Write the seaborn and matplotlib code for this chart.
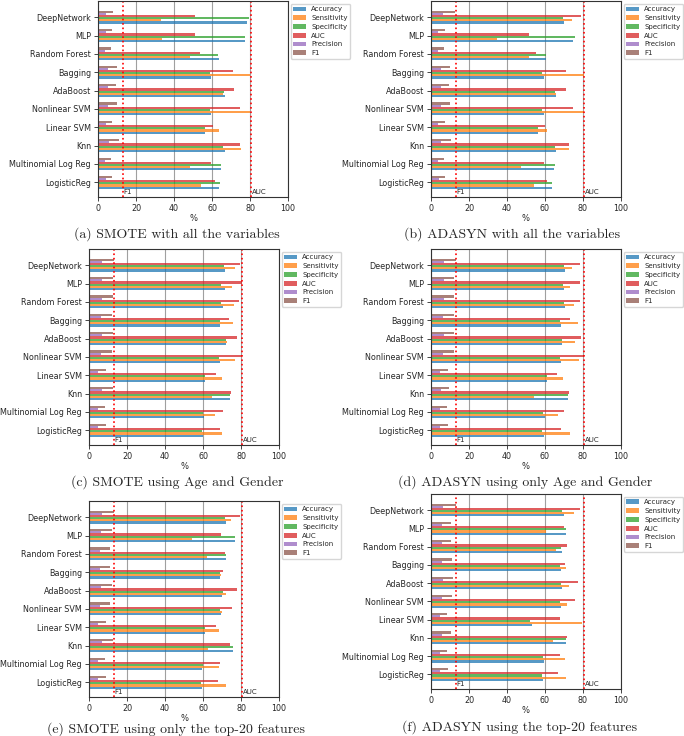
import matplotlib
matplotlib.use("Agg")
import matplotlib.pyplot as plt
import pandas as pd
import seaborn as sns

models = ["DeepNetwork", "MLP", "Random Forest", "Bagging", "AdaBoost",
          "Nonlinear SVM", "Linear SVM", "Knn", "Multinomial Log Reg", "LogisticReg"]
metrics = ["Accuracy", "Sensitivity", "Specificity", "AUC", "Precision", "F1"]

# (a) SMOTE, all variables
acc_a = [78.6, 77.5, 63.5, 59.6, 67.0, 59.6, 56.5, 66.7, 64.6, 63.7]
sens_a = [33.3, 33.7, 48.6, 80.2, 65.8, 80.2, 63.9, 75.1, 48.6, 54.4]
spec_a = [79.5, 77.5, 63.2, 58.8, 66.1, 58.8, 56.5, 65.8, 64.9, 64.0]
auc_a = [50.9, 50.9, 53.7, 71.2, 71.4, 74.9, 60.5, 74.9, 59.6, 61.4]
prec_a = [4.4, 4.4, 3.7, 5.3, 5.3, 5.3, 4.0, 5.8, 3.9, 4.0]
f1_a = [7.9, 7.5, 6.7, 10.0, 9.6, 10.0, 7.5, 10.9, 7.0, 7.5]

# (b) ADASYN, all variables
acc_b = [70.2, 74.9, 60.7, 59.6, 65.8, 59.6, 56.5, 65.6, 64.7, 63.5]
sens_b = [74.4, 34.9, 51.6, 80.4, 65.8, 80.4, 61.2, 72.8, 47.2, 54.4]
spec_b = [69.6, 75.8, 60.5, 58.6, 65.4, 58.6, 56.5, 65.3, 65.4, 63.9]
auc_b = [78.8, 51.6, 55.4, 71.2, 71.2, 74.9, 60.0, 72.6, 59.3, 60.9]
prec_b = [6.5, 3.9, 3.5, 5.3, 5.1, 5.3, 3.9, 5.3, 3.9, 4.0]
f1_b = [12.6, 7.5, 6.7, 10.0, 9.5, 10.0, 7.4, 10.4, 6.8, 7.5]

# (c) SMOTE, age and gender
acc_c = [71.6, 71.6, 70.5, 69.1, 72.3, 68.8, 61.2, 74.0, 60.5, 60.0]
sens_c = [76.7, 75.4, 76.1, 75.8, 72.8, 76.8, 70.0, 64.6, 66.5, 70.2]
spec_c = [70.9, 69.6, 69.6, 68.8, 72.3, 68.2, 60.9, 74.4, 60.0, 59.5]
auc_c = [79.3, 80.5, 78.9, 73.7, 78.1, 80.5, 67.0, 74.7, 70.5, 68.8]
prec_c = [7.0, 7.0, 6.7, 6.5, 6.7, 6.5, 4.9, 6.8, 4.6, 4.9]
f1_c = [13.0, 12.6, 12.6, 11.9, 12.6, 11.9, 8.8, 12.6, 8.4, 8.8]

# (d) ADASYN, age and gender
acc_d = [70.7, 70.0, 70.5, 68.2, 69.1, 68.2, 61.0, 72.1, 59.8, 59.3]
sens_d = [74.4, 73.3, 75.1, 77.2, 75.8, 77.9, 69.6, 54.4, 67.0, 73.0]
spec_d = [70.2, 69.5, 70.0, 67.9, 68.8, 67.7, 60.9, 72.3, 59.1, 58.6]
auc_d = [78.6, 78.6, 78.6, 73.3, 78.9, 80.5, 66.5, 72.8, 69.8, 68.4]
prec_d = [6.7, 6.7, 6.7, 6.5, 6.7, 6.5, 4.9, 5.4, 4.6, 4.9]
f1_d = [13.0, 12.3, 12.3, 11.9, 12.3, 11.9, 8.8, 9.6, 8.4, 8.8]

# (e) SMOTE, top-20 features
acc_e = [72.3, 76.8, 72.3, 69.1, 70.2, 69.3, 61.0, 76.0, 59.6, 59.3]
sens_e = [74.9, 54.4, 61.9, 69.6, 72.3, 70.2, 68.4, 62.8, 68.4, 71.9]
spec_e = [71.4, 77.0, 71.9, 68.8, 70.5, 68.8, 61.2, 75.8, 60.0, 59.1]
auc_e = [79.3, 69.6, 71.4, 70.5, 77.7, 75.1, 67.0, 74.4, 69.1, 67.9]
prec_e = [7.0, 6.5, 6.0, 6.0, 6.5, 6.0, 4.7, 6.8, 4.7, 4.9]
f1_e = [13.0, 11.9, 10.9, 11.2, 11.9, 11.2, 8.8, 12.6, 8.6, 8.8]

# (f) ADASYN, top-20 features
acc_f = [70.2, 71.2, 69.1, 68.4, 69.1, 68.4, 53.0, 70.9, 59.3, 59.1]
sens_f = [75.3, 60.7, 65.6, 71.1, 72.6, 71.8, 79.3, 64.4, 70.5, 70.9]
spec_f = [69.1, 71.2, 68.4, 67.9, 68.6, 67.9, 52.3, 71.1, 58.8, 58.2]
auc_f = [78.4, 70.2, 71.6, 70.5, 77.2, 75.8, 67.7, 71.8, 68.1, 67.0]
prec_f = [6.5, 5.8, 5.6, 5.8, 6.1, 6.0, 4.6, 6.0, 4.6, 4.6]
f1_f = [13.0, 10.5, 10.4, 10.9, 11.4, 10.9, 8.6, 10.7, 8.6, 8.8]

captions = ["(a) SMOTE with all the variables",
            "(b) ADASYN with all the variables",
            "(c) SMOTE using Age and Gender",
            "(d) ADASYN using only Age and Gender",
            "(e) SMOTE using only the top-20 features",
            "(f) ADASYN using the top-20 features"]

f1_ref = 12.9
auc_ref = 80.5

panels = [
    [acc_a, sens_a, spec_a, auc_a, prec_a, f1_a],
    [acc_b, sens_b, spec_b, auc_b, prec_b, f1_b],
    [acc_c, sens_c, spec_c, auc_c, prec_c, f1_c],
    [acc_d, sens_d, spec_d, auc_d, prec_d, f1_d],
    [acc_e, sens_e, spec_e, auc_e, prec_e, f1_e],
    [acc_f, sens_f, spec_f, auc_f, prec_f, f1_f],
]

# axes boxes in pixels: left, right, top, bottom ; caption centre x, y
W, H = 684, 736
boxes = [
    (98, 288, 1, 197, 177, 234),
    (431, 621, 1, 197, 512, 234),
    (89, 279, 249, 445, 177, 482),
    (431, 621, 249, 445, 525, 482),
    (89, 279, 501, 697, 176, 729),
    (431, 621, 494, 689, 520, 727),
]

sns.set_theme(style="white")
pal = dict(zip(metrics, sns.color_palette("tab10", 6)))

fig = plt.figure(figsize=(W / 100, H / 100), dpi=100)

for vals, (l, r, t, b, cx, cy), cap in zip(panels, boxes, captions):
    ax = fig.add_axes([l / W, 1 - b / H, (r - l) / W, (b - t) / H])
    rows = []
    for m, v in zip(metrics, vals):
        for name, x in zip(models, v):
            rows.append({"model": name, "metric": m, "value": x})
    df = pd.DataFrame(rows)

    ax.grid(axis="x", color="#a0a0a0", linewidth=0.8)
    ax.set_axisbelow(True)
    sns.barplot(data=df, y="model", x="value", hue="metric", order=models,
                hue_order=metrics[::-1], palette=pal, width=0.7,
                saturation=1, alpha=0.75, errorbar=None, linewidth=0,
                edgecolor="none", ax=ax)

    ax.axvline(f1_ref, color="red", linestyle=":", linewidth=1.2)
    ax.axvline(auc_ref, color="red", linestyle=":", linewidth=1.2)
    trans = ax.get_xaxis_transform()
    ax.text(f1_ref + 0.6, 0.012, "F1", transform=trans, fontsize=5, va="bottom")
    ax.text(auc_ref + 0.6, 0.012, "AUC", transform=trans, fontsize=5, va="bottom")

    ax.set_xlim(0, 100)
    ax.set_xticks([0, 20, 40, 60, 80, 100])
    ax.set_ylim(9.8, -0.88)
    ax.set_ylabel("")
    ax.set_xlabel("%", fontsize=6, labelpad=1)
    ax.tick_params(axis="both", labelsize=5.8, length=3, width=0.6, pad=2,
                   bottom=True, left=True)
    for s in ax.spines.values():
        s.set_color("#333333")
        s.set_linewidth(0.8)

    handles, labels = ax.get_legend_handles_labels()
    handles, labels = handles[::-1], labels[::-1]
    for h in handles:
        h.set_alpha(0.75)
        h.set_linewidth(0)
    ax.legend(handles, labels, loc="upper left", bbox_to_anchor=(1.015, 0.985),
              borderaxespad=0, fontsize=5, frameon=True, handlelength=1.9,
              handletextpad=0.7, labelspacing=0.4, borderpad=0.35,
              edgecolor="#cccccc", fancybox=True)

    fig.text(cx / W, 1 - cy / H, cap, ha="center", va="center",
             fontsize=10, family="cmr10")

fig.savefig("out.png", dpi=100)
